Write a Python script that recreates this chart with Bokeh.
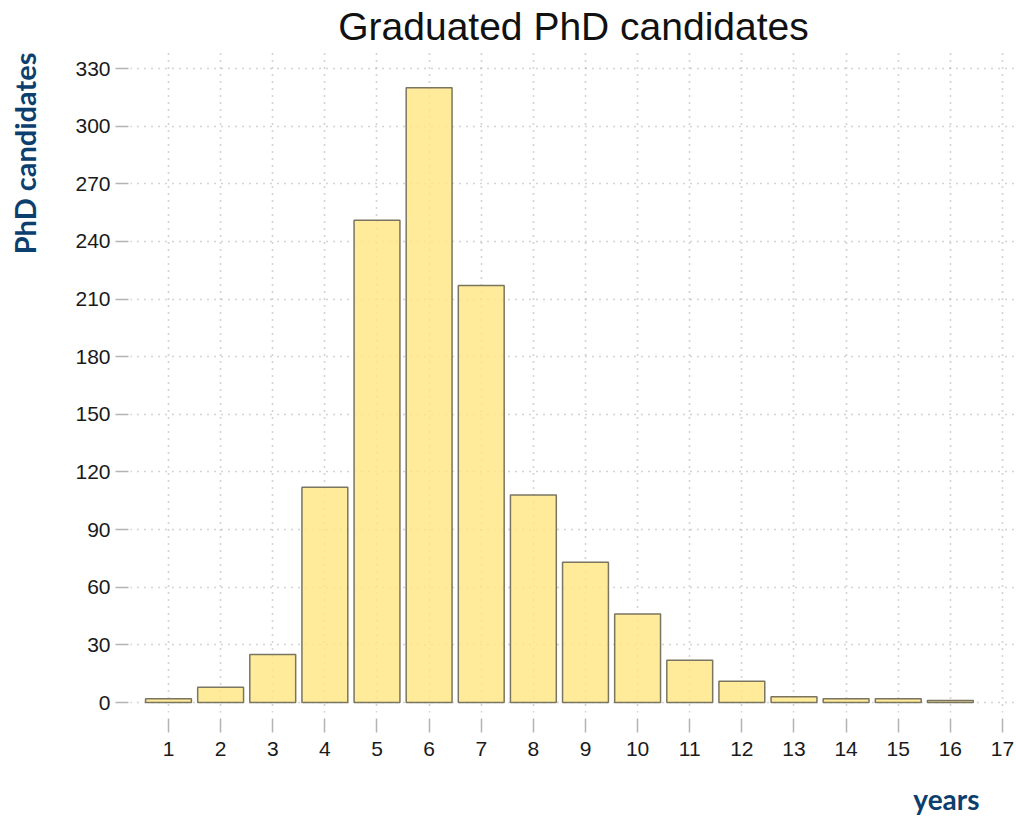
from bokeh.plotting import figure
from bokeh.models import Title, FixedTicker, Range1d
from bokeh.embed import file_html
from bokeh.resources import INLINE

# ---- data ----
years = list(range(1, 17))
counts = [2, 8, 25, 112, 251, 320, 217, 108, 73, 46, 22, 11, 3, 2, 2, 1]
x_ticks = list(range(1, 18))
y_ticks = list(range(0, 331, 30))
title_text = "Graduated PhD candidates"
y_label = "PhD candidates"
x_label = "years"

p = figure(width=1016, height=817, output_backend="svg", toolbar_location=None,
           x_range=Range1d(0.271, 17.269), y_range=Range1d(-5.205, 339.37),
           min_border_left=130, min_border_right=0, min_border_top=50,
           min_border_bottom=105)
p.outline_line_color = None
p.background_fill_color = "white"
p.border_fill_color = "white"

p.vbar(x=years, top=counts, width=0.88, bottom=0,
       fill_color="#FFE680", fill_alpha=0.8,
       line_color="#7a7560", line_width=1.5)

# axes
for ax in (p.xaxis, p.yaxis):
    ax.axis_line_color = None
    ax.minor_tick_line_color = None
    ax.major_tick_line_color = "#b3b3b3"
    ax.major_tick_line_width = 1.5
    ax.major_label_text_font = "Liberation Sans"
    ax.major_label_text_font_size = "21px"
    ax.major_label_text_color = "#1a1a1a"
    ax.axis_label = " "

p.xaxis.ticker = FixedTicker(ticks=x_ticks)
p.yaxis.ticker = FixedTicker(ticks=y_ticks)
p.xaxis.major_tick_in = -6
p.xaxis.major_tick_out = 20
p.xaxis.major_label_standoff = 9
p.xaxis.axis_label_standoff = 2
p.xaxis.axis_label_text_font_size = "14px"
p.yaxis.major_tick_in = -2
p.yaxis.major_tick_out = 15
p.yaxis.major_label_standoff = 5
p.yaxis.axis_label_standoff = 2
p.yaxis.axis_label_text_font_size = "22px"

# grid
p.xgrid.ticker = FixedTicker(ticks=x_ticks)
p.ygrid.ticker = FixedTicker(ticks=y_ticks)
for g in (p.xgrid, p.ygrid):
    g.grid_line_color = "#a8a8a8"
    g.grid_line_dash = "1 6"
    g.grid_line_width = 1.6

# texts
p.title.text = title_text
p.title.align = "center"
p.title.text_font = "Liberation Sans"
p.title.text_font_style = "normal"
p.title.text_font_size = "39px"
p.title.text_color = "#111111"
p.title.standoff = 5

p.add_layout(Title(text=y_label, align="right", offset=2, standoff=2,
                   text_font="Lato", text_font_style="bold",
                   text_font_size="29px", text_color="#0D3F6E"), "left")
p.add_layout(Title(text=x_label, align="right", offset=37, standoff=0,
                   text_font="Lato", text_font_style="bold",
                   text_font_size="28px", text_color="#0D3F6E"), "below")

open("out.html", "w").write(file_html(p, INLINE))
